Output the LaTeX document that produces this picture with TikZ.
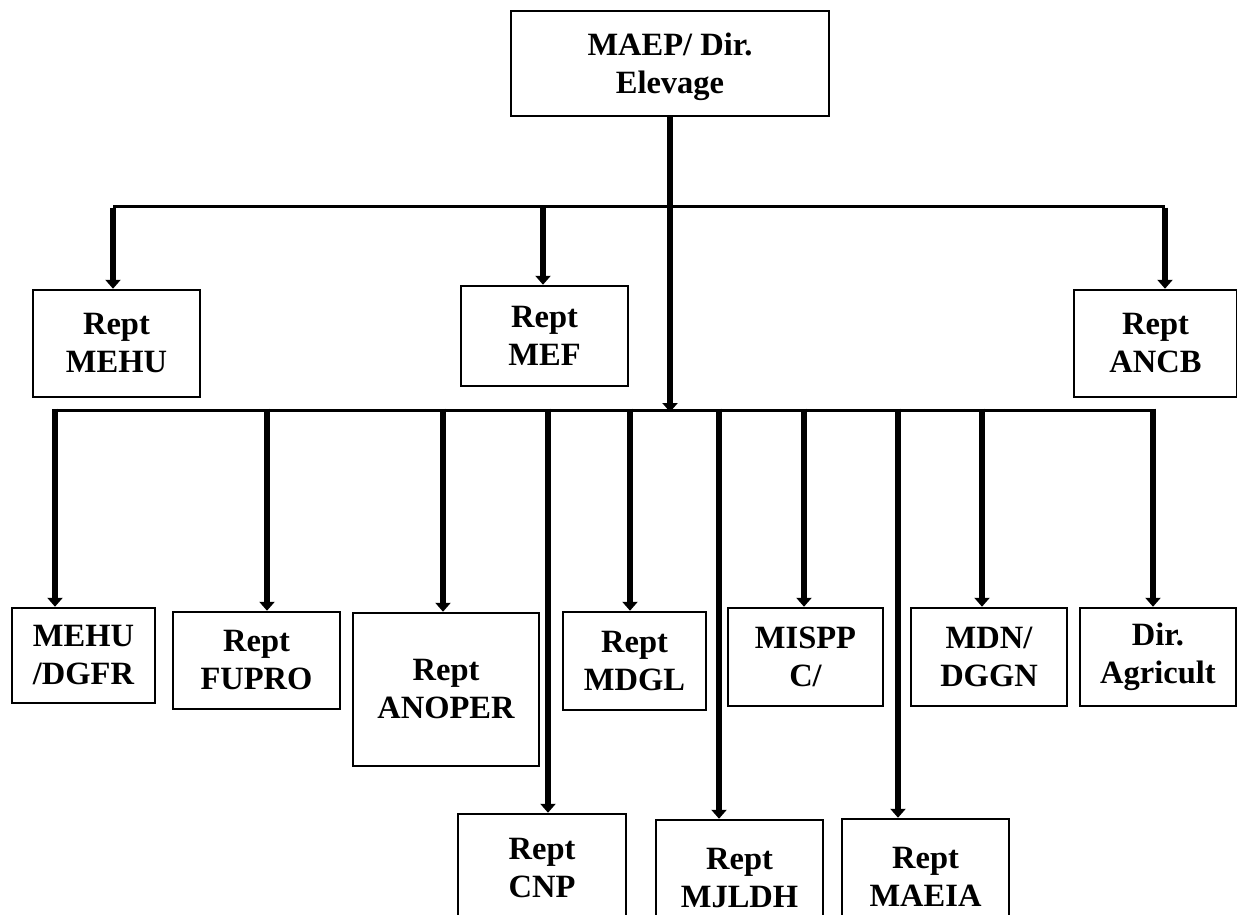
\documentclass[tikz,border=0pt]{standalone}
\usepackage{fontspec}
\setmainfont{Liberation Serif}
\usetikzlibrary{arrows.meta}
\tikzset{
  box/.style={draw, line width=2.5pt, align=center, inner sep=0pt,
    font=\fontsize{32.5}{38}\selectfont\bfseries},
  bus/.style={line width=3pt},
  drop/.style={line width=6pt, -{Triangle[width=15pt,length=9pt]}},
}
\begin{document}
\begin{tikzpicture}[x=1pt,y=-1pt]
\useasboundingbox (0,0) rectangle (1237,914);
\clip (0,0) rectangle (1237,914);
\fill[white] (0,0) rectangle (1237,914);
% top
\node[box, minimum width=318, minimum height=105] (top) at (670,63.5) {\rule{0pt}{30pt}MAEP/ Dir.\\Elevage};
% second level
\node[box, minimum width=167, minimum height=107] (mehu) at (116.5,343.5) {Rept\\MEHU};
\node[box, minimum width=167, minimum height=100] (mef) at (544.5,336) {Rept\\MEF};
\node[box, minimum width=163, minimum height=107] (ancb) at (1155.5,343.5) {Rept\\ANCB};
% third level
\node[box, minimum width=143, minimum height=95] (dgfr) at (83.5,655.5) {MEHU\\/DGFR};
\node[box, minimum width=167, minimum height=97] (fupro) at (256.5,660.5) {Rept\\FUPRO};
\node[box, minimum width=186, minimum height=153] (anoper) at (446,689.5) {Rept\\ANOPER};
\node[box, minimum width=143, minimum height=98] (mdgl) at (634.5,661) {Rept\\MDGL};
\node[box, minimum width=155, minimum height=98] (mispp) at (805.5,657) {MISPP\\C/};
\node[box, minimum width=156, minimum height=98] (mdn) at (989,657) {MDN/\\DGGN};
\node[box, minimum width=156, minimum height=98] (dir) at (1158,657) {Dir.\\Agricult};
% fourth level (cut at bottom)
\node[box, minimum width=168, minimum height=108] (cnp) at (542,868) {Rept\\CNP};
\node[box, minimum width=167, minimum height=116] (mjldh) at (739.5,878) {Rept\\MJLDH};
\node[box, minimum width=167, minimum height=116] (maeia) at (925.5,877) {Rept\\MAEIA};
% buses
\coordinate (b1l) at (113,206);
\coordinate (b1m) at (543,206);
\coordinate (b1r) at (1165,206);
\coordinate (b2l) at (54,410);
\coordinate (b2r) at (1153,410);
\draw[bus] (b1l) -- (b1r);
\draw[bus] (b2l) -- (b2r);
% trunk
\draw[drop] (top.south) -- ([yshift=-2pt]top.south |- b2l);
% bus 1 drops
\draw[drop] ([yshift=-1.5pt]b1l) -- (b1l |- mehu.north);
\draw[drop] ([yshift=-1.5pt]b1m) -- (b1m |- mef.north);
\draw[drop] ([yshift=-1.5pt]b1r) -- (b1r |- ancb.north);
% bus 2 drops
\coordinate (d1) at (55,408.5);
\coordinate (d2) at (267,408.5);
\coordinate (d3) at (443,408.5);
\coordinate (d4) at (548,408.5);
\coordinate (d5) at (630,408.5);
\coordinate (d6) at (719,408.5);
\coordinate (d7) at (804,408.5);
\coordinate (d8) at (898,408.5);
\coordinate (d9) at (982,408.5);
\coordinate (d10) at (1153,408.5);
\draw[drop] (d1) -- (d1 |- dgfr.north);
\draw[drop] (d2) -- (d2 |- fupro.north);
\draw[drop] (d3) -- (d3 |- anoper.north);
\draw[drop] (d4) -- (d4 |- cnp.north);
\draw[drop] (d5) -- (d5 |- mdgl.north);
\draw[drop] (d6) -- (d6 |- mjldh.north);
\draw[drop] (d7) -- (d7 |- mispp.north);
\draw[drop] (d8) -- (d8 |- maeia.north);
\draw[drop] (d9) -- (d9 |- mdn.north);
\draw[drop] (d10) -- (d10 |- dir.north);
\end{tikzpicture}
\end{document}
